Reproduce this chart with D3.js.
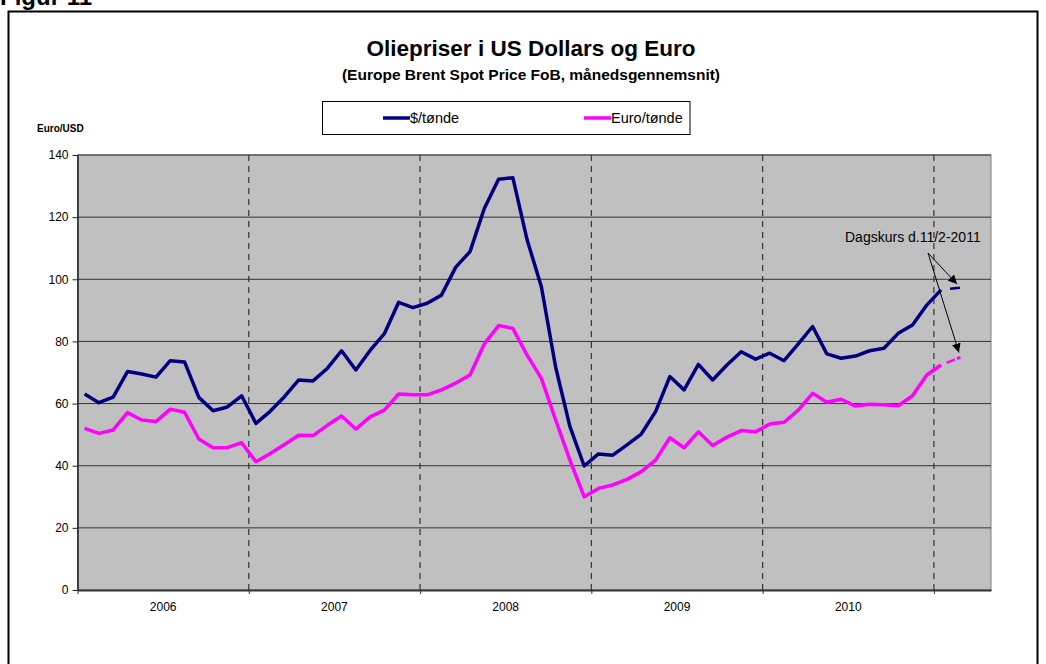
<!DOCTYPE html>
<html>
<head>
<meta charset="utf-8">
<script src="https://cdn.jsdelivr.net/npm/d3@7"></script>
<style>
  body { margin: 0; background: #fff; }
  svg { display: block; font-family: "Liberation Sans", Arial, sans-serif; }
</style>
</head>
<body>
<svg id="chart" width="1046" height="664"></svg>
<script>
// monthly averages, Jan 2006 .. Jan 2011
var years = ["2006", "2007", "2008", "2009", "2010"];
var nCats = 64; // Jan 2006 .. Apr 2011 on the category axis

var usd = [63.1, 60.3, 62.1, 70.3, 69.5, 68.5, 73.8, 73.4, 62.0, 57.7, 58.9, 62.5,
  53.6, 57.5, 62.2, 67.6, 67.3, 71.3, 77.0, 70.8, 77.1, 82.5, 92.6, 90.9,
  92.3, 94.9, 103.9, 108.9, 122.8, 132.2, 132.7, 112.7, 97.6, 71.7, 52.6, 39.9,
  43.8, 43.4, 46.7, 50.2, 57.4, 68.7, 64.4, 72.6, 67.6, 72.4, 76.7, 74.3,
  76.2, 73.8, 79.2, 84.8, 76.0, 74.6, 75.3, 77.0, 77.8, 82.6, 85.3, 91.7,
  96.6];

var eur = [52.0, 50.4, 51.5, 57.1, 54.7, 54.2, 58.2, 57.2, 48.6, 45.8, 45.8, 47.4,
  41.3, 43.9, 46.8, 49.8, 49.7, 53.0, 56.0, 51.8, 55.7, 57.9, 63.1, 62.8,
  62.8, 64.4, 66.6, 69.2, 79.2, 85.1, 84.2, 75.6, 68.1, 54.7, 41.8, 30.0,
  32.7, 33.8, 35.6, 38.1, 41.8, 49.0, 45.8, 50.9, 46.5, 49.2, 51.3, 50.9,
  53.4, 54.0, 57.9, 63.3, 60.4, 61.4, 59.2, 59.8, 59.6, 59.3, 62.5, 69.2,
  72.4];

// daily rate 11/2-2011 (month index + day fraction)
var spotIndex = 61 + 10 / 28;
var usdSpot = 97.3;
var eurSpot = 74.9;

var yTicks = [0, 20, 40, 60, 80, 100, 120, 140];

var svg = d3.select("#chart");
var font = "'Liberation Sans', Arial, sans-serif";

// outer frame + clipped figure label
svg.append("rect").attr("x", 8.5).attr("y", 11.5).attr("width", 1029).attr("height", 700)
  .attr("fill", "none").attr("stroke", "#000").attr("stroke-width", 2);
svg.append("text").attr("x", 0).attr("y", 5)
  .attr("font-size", 24).attr("font-weight", "bold").text("Figur 11");

var m = { left: 77.5, right: 991, top: 155, bottom: 590 };

var x = d3.scaleLinear().domain([0, nCats]).range([m.left, m.right]);
var y = d3.scaleLinear().domain([0, 140]).range([m.bottom, m.top]);

// plot background
svg.append("rect").attr("x", m.left).attr("y", m.top)
  .attr("width", m.right - m.left).attr("height", m.bottom - m.top)
  .attr("fill", "#c0c0c0").attr("stroke", "#808080").attr("stroke-width", 1);

// horizontal gridlines
svg.append("g").selectAll("line").data(yTicks.filter(function(d) { return d > 0; }))
  .enter().append("line")
  .attr("x1", m.left).attr("x2", m.right)
  .attr("y1", function(d) { return y(d); }).attr("y2", function(d) { return y(d); })
  .attr("stroke", "#333").attr("stroke-width", 1);

// dashed year separators
var yearStarts = [12, 24, 36, 48, 60];
svg.append("g").selectAll("line").data(yearStarts).enter().append("line")
  .attr("x1", function(d) { return x(d); }).attr("x2", function(d) { return x(d); })
  .attr("y1", m.top).attr("y2", m.bottom)
  .attr("stroke", "#333").attr("stroke-width", 1.2).attr("stroke-dasharray", "6,5");

// y axis
var yAxis = d3.axisLeft(y).tickValues(yTicks).tickSize(5).tickSizeOuter(0).tickPadding(4);
var gy = svg.append("g").attr("transform", "translate(" + m.left + ",0)").call(yAxis);
gy.select(".domain").attr("stroke", "#222").attr("stroke-width", 1.5);
gy.selectAll(".tick line").attr("stroke", "#222");
gy.selectAll("text").attr("font-size", 12).attr("font-family", font).attr("fill", "#000");

// x axis: ticks on year boundaries, labels centred on years
var xAxis = d3.axisBottom(x).tickValues([0, 12, 24, 36, 48, 60]).tickSize(4).tickSizeOuter(0).tickFormat("");
var gx = svg.append("g").attr("transform", "translate(0," + m.bottom + ")").call(xAxis);
gx.select(".domain").attr("stroke", "#333").attr("stroke-width", 2);
gx.selectAll(".tick line").attr("stroke", "#333");

svg.append("g").selectAll("text").data(years).enter().append("text")
  .attr("x", function(d, i) { return x(i * 12 + 6); })
  .attr("y", 611)
  .attr("text-anchor", "middle").attr("font-size", 12).text(function(d) { return d; });

// lines
var line = d3.line()
  .x(function(d, i) { return x(i + 0.5); })
  .y(function(d) { return y(d); });

svg.append("path").datum(eur).attr("d", line)
  .attr("fill", "none").attr("stroke", "#ff00ff").attr("stroke-width", 3.5)
  .attr("stroke-linejoin", "round");
svg.append("path").datum(usd).attr("d", line)
  .attr("fill", "none").attr("stroke", "#000080").attr("stroke-width", 3.5)
  .attr("stroke-linejoin", "round");

// dashed extension to the daily rate
var spotLine = d3.line().x(function(d) { return x(d[0] + 0.5); }).y(function(d) { return y(d[1]); });
svg.append("path").datum([[60, usd[60]], [spotIndex, usdSpot]]).attr("d", spotLine)
  .attr("fill", "none").attr("stroke", "#000080").attr("stroke-width", 2.5)
  .attr("stroke-dasharray", "0,9,10,20");
svg.append("path").datum([[60, eur[60]], [spotIndex, eurSpot]]).attr("d", spotLine)
  .attr("fill", "none").attr("stroke", "#ff00ff").attr("stroke-width", 2.5)
  .attr("stroke-dasharray", "0,6,9,2,10");

// annotation
svg.append("defs").append("marker").attr("id", "arr")
  .attr("viewBox", "0 0 10 10").attr("refX", 10).attr("refY", 5)
  .attr("markerWidth", 9).attr("markerHeight", 9).attr("markerUnits", "userSpaceOnUse")
  .attr("orient", "auto")
  .append("path").attr("d", "M0,0L10,5L0,10z").attr("fill", "#000");

svg.append("text").attr("x", 845).attr("y", 242).attr("font-size", 14).text("Dagskurs d.11/2-2011");
var origin = [928, 253];
[[spotIndex, usdSpot], [spotIndex, eurSpot]].forEach(function(p) {
  var px = x(p[0] + 0.5), py = y(p[1]);
  var dx = origin[0] - px, dy = origin[1] - py, len = Math.sqrt(dx * dx + dy * dy);
  svg.append("line").attr("x1", origin[0]).attr("y1", origin[1])
    .attr("x2", px + dx / len * 5).attr("y2", py + dy / len * 5)
    .attr("stroke", "#000").attr("stroke-width", 1).attr("marker-end", "url(#arr)");
});

// titles
svg.append("text").attr("x", 531).attr("y", 56).attr("text-anchor", "middle")
  .attr("font-size", 22.5).attr("font-weight", "bold").text("Oliepriser i US Dollars og Euro");
svg.append("text").attr("x", 531).attr("y", 80).attr("text-anchor", "middle")
  .attr("font-size", 15.5).attr("font-weight", "bold").text("(Europe Brent Spot Price FoB, månedsgennemsnit)");
svg.append("text").attr("x", 37).attr("y", 132)
  .attr("font-size", 10).attr("font-weight", "bold").text("Euro/USD");

// legend
var legend = svg.append("g");
legend.append("rect").attr("x", 322.5).attr("y", 101.5).attr("width", 367.5).attr("height", 33)
  .attr("fill", "#fff").attr("stroke", "#000").attr("stroke-width", 1);
var items = [{ name: "$/tønde", color: "#000080", x: 383 }, { name: "Euro/tønde", color: "#ff00ff", x: 584 }];
items.forEach(function(it) {
  legend.append("line").attr("x1", it.x).attr("x2", it.x + 27).attr("y1", 118).attr("y2", 118)
    .attr("stroke", it.color).attr("stroke-width", 3.5);
  legend.append("text").attr("x", it.x + 27).attr("y", 123).attr("font-size", 14.5).text(it.name);
});
</script>
</body>
</html>
